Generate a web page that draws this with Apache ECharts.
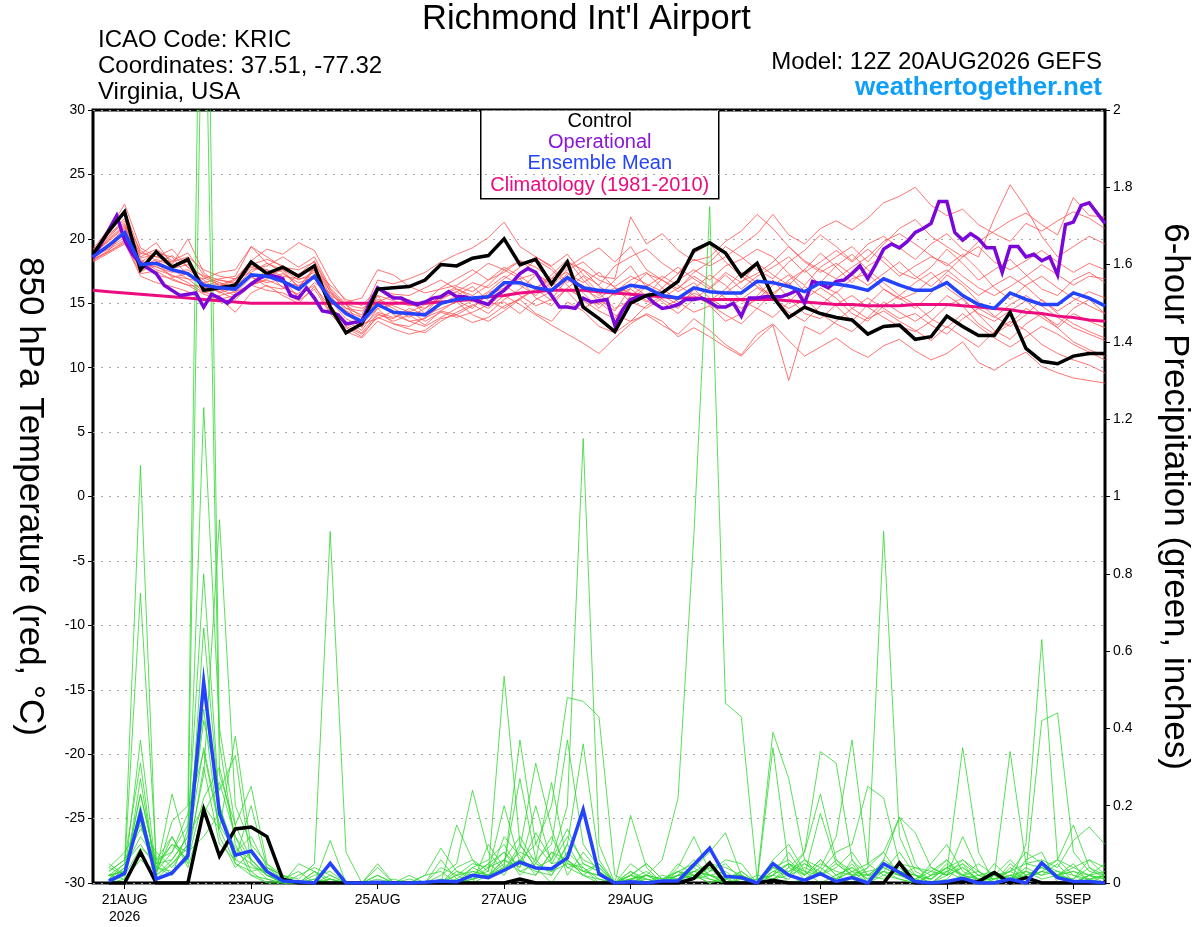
<!DOCTYPE html>
<html>
<head>
<meta charset="utf-8">
<title>Richmond Int'l Airport - GEFS meteogram</title>
<script src="https://cdn.jsdelivr.net/npm/echarts@6/dist/echarts.min.js"></script>
<style>
html, body { margin: 0; padding: 0; background: #fff; }
#chart { width: 1200px; height: 927px; }
</style>
</head>
<body>
<div id="chart"></div>
<script>
// x axis: hours after 12Z 20AUG2026
var dateTickHours = [12, 60, 108, 156, 204, 276, 324, 372];
var dateTickLabels = ['21AUG\n2026', '23AUG', '25AUG', '27AUG', '29AUG', '1SEP', '3SEP', '5SEP'];

// 850 hPa temperature, 6-hourly from 0h
var control = [
    18.8, 20.6, 22.1, 17.6, 19.0, 17.8, 18.4, 16.0, 16.2, 16.4, 18.2, 17.3, 17.8,
    17.1, 17.9, 14.7, 12.7, 13.4, 16.1, 16.2, 16.3, 16.8, 18.0, 17.9, 18.5, 18.7,
    20.0, 18.0, 18.4, 16.5, 18.2, 14.7, 13.8, 12.8, 15.0, 15.6, 15.8, 16.7, 19.1,
    19.7, 18.9, 17.1, 18.1, 15.5, 13.9, 14.7, 14.2, 13.9, 13.7, 12.6, 13.2, 13.3,
    12.2, 12.4, 14.0, 13.2, 12.5, 12.5, 14.3, 11.5, 10.5, 10.3, 10.9, 11.1, 11.1
];
var ensMean = [
    18.6, 19.5, 20.5, 18.0, 18.1, 17.6, 17.3, 16.4, 16.2, 16.1, 17.2, 17.1, 16.7,
    16.1, 17.1, 15.3, 14.2, 13.6, 14.9, 14.3, 14.2, 14.1, 15.0, 15.3, 15.4, 15.5,
    16.6, 16.6, 16.2, 16.0, 17.0, 16.2, 16.0, 15.9, 16.4, 16.2, 15.6, 15.4, 16.2,
    15.9, 15.8, 15.8, 16.7, 16.6, 16.3, 15.9, 16.6, 16.5, 16.3, 16.0, 16.9, 16.4,
    16.0, 16.0, 16.6, 15.6, 14.9, 14.6, 15.8, 15.3, 14.9, 14.9, 15.8, 15.4, 14.8
];
var climatology = [
    16.0, 15.9, 15.8, 15.7, 15.6, 15.5, 15.4, 15.3, 15.2, 15.1, 15.0, 15.0, 15.0,
    15.0, 15.0, 15.0, 15.0, 15.0, 15.0, 15.0, 15.0, 15.0, 15.1, 15.2, 15.3, 15.5,
    15.6, 15.8, 15.9, 16.0, 16.0, 16.0, 15.9, 15.8, 15.7, 15.6, 15.5, 15.4, 15.4,
    15.3, 15.3, 15.3, 15.3, 15.3, 15.2, 15.1, 15.0, 14.9, 14.9, 14.8, 14.8, 14.8,
    14.9, 14.9, 14.9, 14.8, 14.7, 14.6, 14.5, 14.3, 14.2, 14.0, 13.9, 13.7, 13.6
];
// operational run, 3-hourly from 0h
var operational = [
    18.5, 19.6, 20.7, 21.8, 19.9, 18.8, 18.1, 17.7, 17.3, 16.4, 16.0, 15.6, 15.7, 15.8, 14.7, 15.7,
    15.4, 15.0, 15.6, 16.0, 16.5, 16.9, 17.2, 17.1, 16.9, 15.6, 15.4, 16.2, 15.4, 14.4, 14.3, 14.1,
    13.4, 13.5, 13.6, 15.0, 16.2, 15.8, 15.4, 15.4, 15.1, 14.9, 15.1, 15.4, 15.5, 15.9, 15.5, 15.5,
    15.3, 15.1, 14.9, 15.6, 16.0, 16.6, 17.3, 17.7, 17.4, 16.4, 15.6, 14.7, 14.7, 14.6, 15.4, 15.1,
    15.2, 15.3, 13.3, 14.5, 15.3, 15.5, 15.6, 15.0, 14.6, 14.7, 14.9, 15.3, 15.3, 15.4, 15.1, 14.7,
    14.7, 15.0, 14.0, 15.4, 15.4, 15.5, 15.5, 15.5, 15.7, 16.0, 15.0, 16.7, 16.5, 16.2, 16.7, 16.8,
    17.3, 17.9, 16.9, 18.0, 19.2, 19.6, 19.3, 19.8, 20.5, 20.8, 21.2, 22.9, 22.9, 20.5, 19.9, 20.4,
    20.0, 19.3, 19.3, 17.4, 19.4, 19.4, 18.6, 18.8, 18.3, 18.6, 17.2, 21.1, 21.3, 22.6, 22.8, 22.0,
    21.2
];

// ensemble members, temperature, 6-hourly from 0h
var tMember01 = [
    18.9, 20.2, 21.6, 18.6, 19.2, 18.3, 18.9, 17.2, 16.8, 16.5, 18.0, 18.4, 17.9,
    17.2, 18.3, 16.1, 14.6, 14.1, 16.8, 16.5, 16.9, 17.4, 18.2, 18.8, 19.3, 20.1,
    21.3, 19.4, 18.6, 17.9, 18.8, 17.2, 16.4, 17.9, 18.6, 19.2, 18.1, 17.3, 18.4,
    17.9, 18.6, 19.5, 20.4, 21.9, 20.3, 19.6, 20.8, 21.4, 20.7, 21.6, 22.8, 23.3,
    24.0, 22.6, 21.8, 22.3, 21.1, 20.4, 19.8, 21.2, 20.6, 21.4, 22.1, 21.6, 20.8
];
var tMember02 = [
    18.4, 19.0, 19.8, 17.3, 17.5, 16.8, 16.4, 15.7, 15.3, 15.6, 16.4, 16.0, 15.8,
    15.2, 16.1, 14.2, 12.8, 12.3, 13.6, 13.0, 12.6, 12.9, 13.8, 14.1, 13.5, 13.9,
    14.8, 15.3, 14.2, 13.6, 15.1, 14.4, 13.2, 12.7, 13.6, 14.1, 13.3, 12.6, 13.8,
    12.9, 11.8, 11.0, 12.6, 13.4, 12.1, 10.9, 11.6, 12.3, 11.4, 10.8, 11.7, 12.2,
    11.3, 10.6, 11.1, 12.0, 10.4, 9.8, 10.6, 11.2, 10.1, 9.6, 9.2, 9.0, 8.8
];
var tMember03 = [
    18.7, 20.6, 22.7, 19.3, 18.6, 19.2, 17.8, 16.6, 16.9, 17.1, 19.4, 18.6, 17.8,
    17.6, 18.2, 15.9, 14.9, 13.1, 15.6, 15.2, 14.8, 15.1, 16.2, 16.9, 17.6, 16.8,
    17.4, 18.3, 17.8, 16.9, 18.2, 17.6, 16.8, 16.3, 17.1, 16.5, 15.9, 16.8, 17.6,
    16.8, 17.9, 18.4, 19.2, 18.6, 17.3, 16.4, 17.8, 18.6, 19.4, 18.2, 19.6, 20.8,
    21.5, 20.2, 19.4, 18.6, 19.8, 20.6, 21.4, 22.0, 21.1, 20.3, 23.2, 21.8, 21.7
];
var tMember04 = [
    18.5, 19.3, 20.1, 17.6, 17.9, 17.1, 16.9, 15.9, 15.4, 14.3, 15.8, 16.4, 15.6,
    15.0, 16.3, 14.7, 13.4, 12.7, 14.2, 13.6, 14.1, 13.3, 14.4, 15.2, 14.6, 15.8,
    16.4, 15.6, 14.8, 15.3, 16.9, 15.8, 14.6, 15.9, 16.8, 17.4, 16.2, 15.1, 14.3,
    14.8, 13.6, 14.2, 15.6, 16.8, 15.4, 14.2, 13.8, 14.9, 15.6, 14.7, 13.9, 13.2,
    12.8, 13.6, 14.8, 15.4, 14.1, 12.9, 12.2, 13.4, 14.2, 13.1, 12.0, 11.4, 10.9
];
var tMember05 = [
    19.1, 20.4, 21.2, 18.8, 19.7, 18.0, 20.0, 17.4, 16.3, 16.8, 18.3, 19.2, 18.8,
    19.7, 19.1, 16.8, 15.1, 15.4, 17.6, 17.2, 16.3, 15.8, 16.1, 16.4, 17.2, 18.1,
    17.6, 16.9, 15.4, 14.8, 16.2, 17.1, 15.8, 14.6, 15.2, 16.3, 17.1, 16.4, 15.6,
    14.9, 15.8, 16.7, 17.3, 18.2, 19.4, 18.3, 17.6, 16.9, 17.8, 18.6, 19.8, 20.4,
    19.6, 18.7, 17.9, 18.8, 17.6, 16.2, 15.3, 16.4, 17.1, 16.2, 15.4, 14.8, 14.2
];
var tMember06 = [
    18.3, 19.0, 19.7, 17.1, 16.6, 16.3, 15.9, 15.2, 15.6, 15.9, 16.4, 16.9, 17.3,
    16.6, 17.0, 14.9, 13.2, 12.6, 13.9, 13.4, 13.0, 12.7, 13.6, 14.3, 14.9, 14.2,
    15.3, 16.1, 17.2, 16.6, 17.8, 18.6, 19.3, 18.2, 19.4, 17.6, 16.8, 15.9, 16.6,
    15.4, 14.6, 15.3, 16.2, 15.4, 14.3, 13.6, 14.8, 15.9, 14.6, 13.8, 14.4, 13.6,
    12.9, 12.1, 13.2, 12.4, 11.6, 12.8, 13.6, 12.9, 11.8, 11.1, 10.6, 10.2, 9.6
];
var tMember07 = [
    18.8, 19.9, 21.0, 18.3, 17.8, 17.4, 17.6, 16.8, 15.9, 16.4, 17.8, 17.4, 16.2,
    15.7, 17.9, 15.6, 14.1, 13.4, 14.6, 14.9, 15.3, 14.2, 15.6, 16.1, 15.4, 14.8,
    15.9, 17.2, 18.4, 17.6, 16.4, 15.2, 14.4, 13.8, 15.6, 16.4, 15.1, 14.2, 15.3,
    16.2, 17.4, 16.6, 18.1, 17.2, 16.4, 17.6, 18.9, 17.8, 16.6, 17.9, 18.6, 17.4,
    16.9, 17.8, 19.2, 18.1, 16.8, 17.6, 18.4, 17.2, 16.1, 15.6, 16.8, 17.4, 16.6
];
var tMember08 = [
    18.6, 19.6, 20.8, 17.8, 18.4, 17.9, 18.2, 16.1, 16.6, 15.8, 17.0, 16.6, 16.9,
    15.4, 16.6, 15.8, 14.6, 14.4, 15.6, 14.1, 13.6, 13.8, 14.9, 15.6, 16.3, 15.2,
    14.6, 15.4, 16.1, 17.2, 18.4, 16.8, 15.6, 16.8, 17.9, 16.2, 15.3, 14.6, 16.1,
    17.2, 16.4, 15.2, 14.6, 13.9, 15.1, 16.3, 15.6, 14.8, 13.6, 14.9, 16.1, 15.4,
    14.6, 15.8, 17.2, 16.4, 15.1, 14.0, 13.2, 14.1, 15.3, 14.2, 13.4, 12.8, 12.3
];
var tMember09 = [
    18.5, 19.4, 20.3, 18.2, 18.9, 18.6, 17.1, 16.9, 17.4, 17.6, 19.4, 18.1, 17.4,
    16.3, 17.6, 16.4, 15.3, 14.8, 16.1, 15.7, 15.6, 16.2, 16.8, 16.1, 15.6, 16.4,
    17.6, 18.3, 17.4, 16.3, 17.6, 18.2, 17.1, 16.9, 21.7, 19.6, 20.4, 19.1, 18.3,
    18.6, 19.8, 20.6, 21.9, 20.8, 19.4, 18.2, 17.4, 18.1, 17.2, 16.4, 17.3, 18.2,
    17.1, 16.3, 17.4, 18.6, 19.4, 18.2, 17.6, 18.3, 19.1, 18.2, 17.4, 18.1, 17.6
];
var tMember10 = [
    18.9, 19.8, 20.9, 18.1, 17.2, 16.9, 16.4, 16.3, 15.9, 15.3, 16.4, 16.8, 16.3,
    15.6, 16.4, 14.3, 13.1, 12.4, 14.1, 13.8, 14.6, 14.1, 14.6, 15.1, 14.1, 13.6,
    14.4, 15.3, 16.1, 15.2, 16.1, 15.4, 14.9, 15.8, 16.1, 15.2, 14.6, 15.3, 16.1,
    14.9, 14.1, 13.4, 14.6, 15.8, 16.6, 15.4, 14.2, 13.4, 12.8, 13.9, 15.1, 14.3,
    13.6, 14.4, 15.6, 14.8, 13.4, 12.6, 13.4, 14.6, 13.9, 13.1, 14.2, 13.6, 13.1
];
var tMember11 = [
    18.2, 18.9, 19.6, 17.7, 18.1, 18.7, 17.8, 17.1, 16.6, 16.2, 17.6, 17.9, 18.6,
    17.8, 18.6, 16.2, 14.9, 13.9, 15.2, 14.6, 13.9, 14.6, 15.6, 16.3, 15.9, 16.8,
    17.8, 17.1, 16.2, 16.9, 17.4, 16.1, 15.4, 16.2, 15.8, 15.1, 16.2, 17.3, 18.9,
    19.6, 18.2, 17.1, 16.3, 15.6, 16.8, 17.6, 16.4, 15.8, 16.9, 17.3, 16.1, 15.3,
    15.8, 16.9, 17.6, 16.6, 15.6, 16.4, 17.1, 16.3, 15.2, 14.4, 15.2, 15.9, 15.4
];
var tMember12 = [
    18.7, 19.2, 19.9, 18.4, 17.6, 17.2, 16.6, 15.8, 16.1, 15.6, 16.6, 17.6, 16.6,
    16.4, 16.9, 15.1, 14.4, 13.4, 13.8, 14.4, 13.6, 13.2, 13.9, 14.6, 15.2, 14.6,
    15.6, 14.9, 14.1, 13.3, 12.6, 11.9, 11.1, 12.3, 13.4, 14.2, 13.6, 12.4, 13.1,
    12.4, 11.6, 10.9, 12.2, 13.3, 9.0, 13.2, 12.6, 13.6, 14.6, 15.4, 14.6, 13.8,
    14.2, 13.3, 12.6, 13.8, 14.6, 13.9, 14.9, 15.6, 14.8, 13.9, 13.1, 12.6, 12.1
];
var tMember13 = [
    18.6, 20.1, 21.4, 19.1, 18.3, 17.6, 16.9, 16.6, 15.8, 16.2, 17.1, 16.3, 16.1,
    17.3, 17.6, 14.6, 13.6, 12.9, 14.6, 13.4, 13.2, 13.9, 14.4, 14.1, 14.8, 15.6,
    16.2, 16.9, 17.3, 16.1, 17.3, 16.6, 17.4, 16.2, 15.1, 14.6, 15.4, 16.2, 17.1,
    16.3, 15.4, 14.6, 15.3, 16.4, 17.2, 15.9, 16.6, 17.9, 18.8, 17.6, 16.6, 15.6,
    16.6, 17.4, 16.2, 15.3, 14.2, 13.6, 14.4, 15.2, 14.1, 13.3, 14.6, 15.3, 14.2
];
var tMember14 = [
    19.2, 20.8, 22.2, 18.9, 18.6, 18.2, 18.6, 17.6, 17.1, 16.9, 18.3, 17.1, 17.6,
    16.8, 17.4, 15.6, 14.9, 14.6, 15.3, 14.8, 14.3, 14.9, 15.4, 15.9, 16.6, 16.2,
    17.1, 16.4, 15.6, 16.6, 15.9, 14.6, 15.3, 14.4, 16.2, 17.3, 16.8, 16.1, 17.4,
    18.2, 19.4, 18.6, 17.6, 16.9, 18.2, 19.1, 20.3, 19.4, 18.3, 19.6, 20.2, 19.3,
    18.4, 19.6, 20.4, 19.2, 18.6, 21.6, 24.2, 22.4, 20.2, 18.6, 19.4, 20.2, 19.6
];
var tMember15 = [
    18.4, 19.1, 20.6, 17.4, 18.2, 17.0, 17.3, 16.2, 16.8, 16.6, 17.9, 17.6, 17.1,
    16.9, 17.1, 15.2, 13.8, 13.2, 14.3, 13.9, 14.4, 13.6, 14.3, 13.9, 14.3, 14.9,
    15.1, 14.2, 15.3, 15.9, 16.8, 16.4, 15.1, 14.1, 13.6, 14.8, 15.6, 14.9, 15.8,
    15.2, 16.1, 17.4, 16.6, 15.3, 14.6, 15.3, 16.2, 15.4, 14.2, 13.6, 14.8, 15.6,
    14.9, 13.8, 13.1, 14.2, 13.2, 12.3, 11.6, 12.4, 13.2, 12.6, 11.8, 11.2, 10.6
];
var tMember16 = [
    18.8, 20.0, 21.1, 18.5, 18.8, 17.7, 18.0, 17.0, 16.4, 16.9, 17.4, 18.1, 17.6,
    16.2, 17.8, 15.9, 14.4, 13.9, 15.1, 15.6, 14.9, 14.6, 15.3, 15.9, 15.1, 15.9,
    16.9, 17.8, 18.6, 17.8, 16.6, 17.6, 16.3, 15.6, 16.4, 15.6, 16.9, 17.8, 16.9,
    16.1, 17.2, 16.1, 17.1, 17.8, 18.6, 17.4, 18.2, 19.1, 18.2, 19.2, 18.2, 17.1,
    17.9, 18.6, 18.1, 17.1, 16.2, 15.6, 16.3, 17.1, 18.0, 17.2, 16.4, 17.1, 16.9
];

// 6-hour precipitation (inches), 6-hourly from 6h
var controlPrecip = [
    0, 0, 0.08, 0, 0, 0, 0.19, 0.07,
    0.14, 0.145, 0.12, 0.01, 0, 0, 0, 0,
    0, 0, 0, 0, 0, 0, 0, 0,
    0, 0, 0.01, 0, 0, 0, 0, 0,
    0, 0, 0, 0, 0, 0.012, 0.052, 0,
    0, 0, 0.007, 0, 0, 0, 0, 0,
    0, 0, 0.052, 0, 0, 0, 0.004, 0.004,
    0.027, 0, 0.014, 0, 0, 0, 0, 0
];
var meanPrecip = [
    0.005, 0.025, 0.18, 0.01, 0.026, 0.07, 0.52, 0.18,
    0.072, 0.083, 0.03, 0.005, 0.003, 0, 0.051, 0,
    0, 0.002, 0, 0, 0.002, 0.005, 0.003, 0.02,
    0.014, 0.033, 0.054, 0.039, 0.037, 0.065, 0.19, 0.023,
    0, 0.003, 0, 0.005, 0.005, 0.047, 0.09, 0.017,
    0.014, 0, 0.05, 0.02, 0.007, 0.024, 0.004, 0.014,
    0, 0.05, 0.027, 0.004, 0, 0.004, 0.012, 0,
    0, 0.01, 0, 0.052, 0.014, 0.004, 0.004, 0
];
var pMember01 = [
    0.02, 0.05, 1.08, 0.04, 0.1, 0.06, 0.22, 0.3,
    0.12, 0.03, 0, 0, 0, 0, 0, 0,
    0, 0, 0, 0, 0, 0.02, 0.05, 0.24,
    0.08, 0.03, 0.1, 0.04, 0, 0.06, 0.02, 0,
    0, 0.01, 0, 0, 0, 0.04, 0.08, 0.13,
    0.02, 0, 0.05, 0, 0.01, 0.03, 0, 0.06,
    0, 0.02, 0.04, 0, 0, 0.03, 0.35, 0.08,
    0, 0.02, 0, 0.05, 0.03, 0, 0.01, 0.02
];
var pMember02 = [
    0, 0.04, 0.75, 0.06, 0.02, 0.14, 0.8, 0.2,
    0.05, 0.02, 0.01, 0, 0, 0, 0.11, 0,
    0, 0, 0, 0, 0, 0, 0, 0.04,
    0.02, 0.06, 0.12, 0.05, 0.03, 0.1, 0.36, 0.06,
    0, 0, 0.02, 0, 0.05, 0.02, 0, 0.01,
    0, 0, 0.06, 0.1, 0.03, 0, 0.02, 0.04,
    0.01, 0.06, 0.17, 0.05, 0, 0, 0.02, 0,
    0.03, 0, 0.06, 0.08, 0, 0, 0.02, 0
];
var pMember03 = [
    0.01, 0.02, 0.37, 0.03, 0.08, 0.18, 0.34, 0.14,
    0.38, 0.09, 0.03, 0, 0, 0.01, 0, 0,
    0, 0.04, 0, 0, 0, 0, 0.15, 0.06,
    0.01, 0.12, 0.07, 0.02, 0.08, 0.04, 0.02, 0.01,
    0, 0.05, 0.02, 0, 0, 0.03, 0.02, 0,
    0, 0.01, 0.39, 0.27, 0.06, 0.02, 0.01, 0.03,
    0, 0.04, 0.02, 0, 0.05, 0.1, 0.03, 0.01,
    0, 0.04, 0.01, 0.03, 0.02, 0.05, 0, 0
];
var pMember04 = [
    0.03, 0.06, 0.31, 0.01, 0.05, 0.1, 0.42, 0.24,
    0.33, 0.05, 0.01, 0, 0.02, 0.04, 0.02, 0,
    0, 0, 0, 0.01, 0, 0, 0.03, 0.02,
    0.05, 0.02, 0.09, 0.31, 0.14, 0.02, 0.08, 0.03,
    0, 0, 0, 0.02, 0.01, 0.02, 0.04, 0,
    0.01, 0, 0.04, 0.02, 0.08, 0.23, 0.06, 0.02,
    0, 0.03, 0.08, 0.02, 0, 0.01, 0.05, 0,
    0.02, 0.06, 0.02, 0.04, 0.06, 0.15, 0.04, 0.01
];
var pMember05 = [
    0, 0.01, 0.27, 0.02, 0.16, 0.2, 3.2, 0.36,
    0.1, 0.02, 0, 0, 0, 0, 0, 0,
    0, 0, 0, 0, 0, 0, 0.02, 0.05,
    0.04, 0.08, 0.02, 0.06, 0.26, 0.05, 0.03, 0.02,
    0, 0.02, 0.05, 0.01, 0.03, 0.05, 0.02, 0,
    0.03, 0, 0.02, 0.05, 0.02, 0.06, 0.02, 0,
    0.04, 0.08, 0.02, 0.01, 0.04, 0.02, 0.12, 0.03,
    0, 0.01, 0.02, 0.04, 0.02, 0, 0.02, 0.03
];
var pMember06 = [
    0.05, 0.02, 0.23, 0.05, 0.06, 0.12, 2.6, 0.28,
    0.15, 0.06, 0.02, 0.01, 0, 0, 0, 0,
    0, 0, 0, 0, 0.02, 0.03, 0, 0.02,
    0.03, 0.2, 0.05, 0.03, 0.02, 0.08, 0.04, 0.01,
    0, 0, 0.01, 0, 0.04, 0.12, 0.03, 0.05,
    0.01, 0, 0.03, 0.05, 0.01, 0.04, 0.12, 0.37,
    0.05, 0.02, 0.01, 0, 0.02, 0.03, 0.01, 0,
    0.05, 0.01, 0.03, 0.02, 0.05, 0, 0.02, 0.05
];
var pMember07 = [
    0.02, 0.03, 0.18, 0.04, 0.02, 0.08, 1.23, 0.4,
    0.15, 0.25, 0.05, 0.01, 0, 0, 0.02, 0,
    0, 0, 0, 0, 0, 0, 0, 0.03,
    0.02, 0.06, 0.04, 0.13, 0.06, 0.2, 1.15, 0.1,
    0, 0.03, 0, 0, 0.02, 0.01, 0.04, 0.02,
    0, 0.02, 0.01, 0.03, 0.05, 0.02, 0.04, 0.08,
    0.02, 0.05, 0.03, 0.02, 0.01, 0.04, 0.02, 0.05,
    0.02, 0, 0.03, 0.42, 0.44, 0.08, 0.03, 0.02
];
var pMember08 = [
    0.04, 0.08, 0.15, 0.03, 0.12, 0.05, 0.66, 0.2,
    0.08, 0.12, 0.04, 0.02, 0, 0, 0.01, 0,
    0, 0.02, 0, 0, 0, 0.06, 0.01, 0,
    0.1, 0.04, 0.37, 0.1, 0.05, 0.12, 0.06, 0.04,
    0, 0.01, 0.03, 0, 0.02, 0.06, 0.02, 0.01,
    0.02, 0, 0.04, 0.06, 0.02, 0.18, 0.05, 0.02,
    0.02, 0.01, 0.05, 0.04, 0.02, 0.06, 0.02, 0.01,
    0.01, 0.03, 0.08, 0.05, 0.02, 0.01, 0.06, 0.04
];
var pMember09 = [
    0.01, 0.04, 0.12, 0.06, 0.08, 0.15, 0.5, 0.18,
    0.06, 0.04, 0.03, 0, 0.05, 0.03, 0, 0,
    0, 0.05, 0, 0, 0, 0, 0.01, 0.04,
    0.06, 0.1, 0.03, 0.05, 0.12, 0.04, 0.05, 0.03,
    0, 0.175, 0.04, 0, 0.01, 0.02, 0.01, 0,
    0, 0, 0.03, 0.02, 0.06, 0.04, 0.01, 0.05,
    0, 0.06, 0.03, 0.02, 0.01, 0.05, 0.02, 0.01,
    0.02, 0.34, 0.05, 0.04, 0.02, 0.03, 0.01, 0.02
];
var pMember10 = [
    0, 0.02, 0.2, 0.02, 0.05, 0.09, 0.45, 0.12,
    0.04, 0.08, 0.02, 0, 0, 0.03, 0, 0,
    0, 0, 0, 0, 0, 0.04, 0.02, 0,
    0.02, 0.05, 0.27, 0.06, 0.02, 0.1, 0.03, 0.02,
    0, 0.03, 0.01, 0, 0.02, 0.03, 0.05, 0.04,
    0.02, 0, 0.01, 0.04, 0.08, 0.34, 0.31, 0.06,
    0.02, 0.03, 0.01, 0, 0.02, 0.04, 0.06, 0.02,
    0, 0.02, 0.01, 0.03, 0.06, 0.04, 0.02, 0.01
];
var pMember11 = [
    0.03, 0.06, 0.14, 0.08, 0.04, 0.1, 0.35, 0.15,
    0.08, 0.05, 0.02, 0, 0, 0, 0.01, 0,
    0, 0.01, 0, 0, 0, 0, 0.04, 0.06,
    0.03, 0.535, 0.1, 0.04, 0.06, 0.14, 0.05, 0.03,
    0, 0.02, 0, 0, 0.03, 0.01, 0.02, 0.03,
    0, 0, 0.02, 0.01, 0.05, 0.03, 0.08, 0.1,
    0.25, 0.22, 0.05, 0.02, 0, 0.03, 0.05, 0.02,
    0.03, 0.01, 0.04, 0.02, 0.03, 0.02, 0, 0.02
];
var pMember12 = [
    0.02, 0.03, 0.23, 0.05, 0.1, 0.08, 0.28, 0.94,
    0.2, 0.1, 0.05, 0.02, 0, 0.01, 0, 0,
    0, 0, 0, 0, 0, 0.01, 0, 0.01,
    0.02, 0.04, 0.06, 0.1, 0.2, 0.48, 0.47, 0.43,
    0.02, 0, 0.02, 0.01, 0.02, 0.04, 0.01, 0,
    0, 0.01, 0.02, 0.08, 0.02, 0.05, 0.03, 0.02,
    0.03, 0.04, 0.02, 0.01, 0.03, 0.02, 0.04, 0.01,
    0.02, 0, 0.1, 0.63, 0.06, 0.02, 0.01, 0
];
var pMember13 = [
    0.01, 0.05, 0.1, 0.04, 0.03, 0.06, 0.3, 0.1,
    0.06, 0.2, 0.04, 0.01, 0.03, 0, 0, 0,
    0, 0, 0, 0.02, 0, 0, 0, 0.02,
    0.05, 0.08, 0.04, 0.2, 0.05, 0.06, 0.03, 0.05,
    0, 0.02, 0.05, 0.01, 0.03, 0.02, 0, 0.02,
    0.02, 0, 0.04, 0.03, 0.06, 0.02, 0.05, 0.02,
    0.04, 0.91, 0.12, 0.03, 0.01, 0.04, 0.02, 0.03,
    0, 0.05, 0.02, 0.03, 0.02, 0.01, 0.04, 0.02
];
var pMember14 = [
    0.02, 0.03, 0.16, 0.02, 0.06, 0.12, 0.2, 0.14,
    0.05, 0.03, 0.04, 0.02, 0.01, 0.05, 0.91, 0.08,
    0, 0, 0, 0, 0, 0, 0, 0.01,
    0.02, 0.03, 0.06, 0.04, 0.03, 0.05, 0.04, 0,
    0, 0.01, 0.02, 0.06, 0.22, 0.9, 1.75, 0.465,
    0.43, 0.01, 0.02, 0.05, 0.03, 0.02, 0.06, 0.03,
    0.02, 0.05, 0.03, 0.01, 0, 0.02, 0.04, 0.01,
    0.02, 0.03, 0.01, 0.05, 0.02, 0.03, 0.02, 0.01
];
var pMember15 = [
    0.04, 0.02, 0.09, 0.06, 0.12, 0.04, 0.18, 0.26,
    0.12, 0.06, 0.02, 0.01, 0, 0.02, 0.03, 0,
    0, 0, 0.01, 0, 0.02, 0.09, 0.03, 0.01,
    0.04, 0.06, 0.03, 0.02, 0.08, 0.06, 0.02, 0.05,
    0, 0.02, 0.01, 0, 0.02, 0.01, 0.03, 0.06,
    0.05, 0, 0.35, 0.04, 0.02, 0.06, 0.02, 0.04,
    0.01, 0.03, 0.02, 0.04, 0.03, 0.06, 0.01, 0.02,
    0.01, 0.03, 0.05, 0.06, 0.04, 0.11, 0.145, 0.1
];
var pMember16 = [
    0.02, 0.01, 0.06, 0.03, 0.23, 0.08, 0.12, 0.18,
    0.09, 0.06, 0.02, 0, 0, 0.03, 0.01, 0,
    0, 0.02, 0, 0, 0, 0, 0.02, 0.03,
    0.02, 0.04, 0.08, 0.06, 0.1, 0.37, 0.1, 0.04,
    0, 0.01, 0.02, 0.01, 0.01, 0.03, 0.02, 0.01,
    0.03, 0, 0.01, 0.02, 0.04, 0.02, 0.01, 0.03,
    0.05, 0.08, 0.17, 0.13, 0.04, 0.02, 0.06, 0.03,
    0.01, 0.02, 0.03, 0.01, 0.02, 0.04, 0.06, 0.02
];

var tempMembers = [tMember01, tMember02, tMember03, tMember04, tMember05, tMember06, tMember07, tMember08,
    tMember09, tMember10, tMember11, tMember12, tMember13, tMember14, tMember15, tMember16];
var precipMembers = [pMember01, pMember02, pMember03, pMember04, pMember05, pMember06, pMember07, pMember08,
    pMember09, pMember10, pMember11, pMember12, pMember13, pMember14, pMember15, pMember16];

// pair values with forecast hour
function withHours(values, firstHour, step) {
    return values.map(function (v, i) { return [firstHour + i * step, v]; });
}

var font = 'Liberation Sans, Arial, Helvetica, sans-serif';

function thinLine(name, data, color, yIdx) {
    return {
        name: name,
        type: 'line',
        yAxisIndex: yIdx,
        data: data,
        showSymbol: false,
        symbol: 'none',
        silent: true,
        lineStyle: { color: color, width: 0.8 },
        z: 2
    };
}
function thickLine(name, data, color, width, yIdx, z) {
    return {
        name: name,
        type: 'line',
        yAxisIndex: yIdx,
        data: data,
        showSymbol: false,
        symbol: 'none',
        silent: true,
        lineStyle: { color: color, width: width, join: 'miter' },
        z: z
    };
}

var series = [];
tempMembers.forEach(function (m, i) {
    series.push(thinLine('t' + i, withHours(m, 0, 6), '#ff5050', 0));
});
precipMembers.forEach(function (m, i) {
    series.push(thinLine('p' + i, withHours(m, 6, 6), '#2fd82f', 1));
});
series.push(thickLine('Climatology', withHours(climatology, 0, 6), '#ec0c80', 3, 0, 5));
series.push(thickLine('Operational', withHours(operational, 0, 3), '#7a06d9', 3.5, 0, 6));
series.push(thickLine('Control', withHours(control, 0, 6), '#000000', 3.5, 0, 7));
series.push(thickLine('Ensemble Mean', withHours(ensMean, 0, 6), '#2443ff', 3.5, 0, 8));
series.push(thickLine('Control precip', withHours(controlPrecip, 6, 6), '#000000', 3.5, 1, 7));
series.push(thickLine('Mean precip', withHours(meanPrecip, 6, 6), '#2443ff', 3.5, 1, 8));

var chart = echarts.init(document.getElementById('chart'), null, { renderer: 'canvas' });

var option = {
    animation: false,
    backgroundColor: '#ffffff',
    textStyle: { fontFamily: font },
    grid: {
        left: 93,
        right: 94,
        top: 110,
        bottom: 44,
        show: true,
        borderColor: '#000',
        borderWidth: 3,
        backgroundColor: 'transparent'
    },
    xAxis: {
        type: 'value',
        min: 0,
        max: 384,
        axisLine: { show: false, onZero: false },
        splitLine: { show: false },
        axisTick: {
            show: true,
            inside: false,
            customValues: dateTickHours,
            length: 6,
            lineStyle: { color: '#000', width: 1 }
        },
        axisLabel: {
            customValues: dateTickHours,
            color: '#000',
            fontSize: 14,
            lineHeight: 17,
            margin: 9,
            formatter: function (v) {
                var i = dateTickHours.indexOf(v);
                return i >= 0 ? dateTickLabels[i] : '';
            }
        }
    },
    yAxis: [{
        type: 'value',
        min: -30,
        max: 30,
        interval: 5,
        position: 'left',
        name: '850 hPa Temperature (red, °C)',
        nameLocation: 'middle',
        nameRotate: -90,
        nameGap: 46,
        nameTextStyle: { fontSize: 35, color: '#000' },
        axisLine: { show: false },
        axisTick: { show: true, length: 5, lineStyle: { color: '#000' } },
        axisLabel: { color: '#000', fontSize: 14, margin: 8 },
        splitLine: { show: true, lineStyle: { color: '#a8a8a8', width: 1, type: [2, 6] } }
    }, {
        type: 'value',
        min: 0,
        max: 2,
        interval: 0.2,
        position: 'right',
        name: '6-hour Precipitation (green, inches)',
        nameLocation: 'middle',
        nameRotate: -90,
        nameGap: 52,
        nameTextStyle: { fontSize: 35, color: '#000' },
        axisLine: { show: false },
        axisTick: { show: true, length: 5, lineStyle: { color: '#000' } },
        axisLabel: {
            color: '#000', fontSize: 14, margin: 8,
            formatter: function (v) { return String(Math.round(v * 10) / 10); }
        },
        splitLine: { show: false }
    }],
    series: series,
    graphic: [
        { type: 'text', left: 422, top: 2, style: { text: "Richmond Int'l Airport", fontSize: 34.5, fill: '#000', fontFamily: font } },
        { type: 'text', left: 98, top: 28, style: { text: 'ICAO Code: KRIC', fontSize: 24, fill: '#000', fontFamily: font } },
        { type: 'text', left: 98, top: 54, style: { text: 'Coordinates: 37.51, -77.32', fontSize: 24, fill: '#000', fontFamily: font } },
        { type: 'text', left: 98, top: 80, style: { text: 'Virginia, USA', fontSize: 24, fill: '#000', fontFamily: font } },
        { type: 'text', right: 98, top: 50, style: { text: 'Model: 12Z 20AUG2026 GEFS', fontSize: 24, fill: '#000', fontFamily: font } },
        { type: 'text', right: 98, top: 75, style: { text: 'weathertogether.net', fontSize: 26, fontWeight: 'bold', fill: '#0ea0f8', fontFamily: font } },
        {
            type: 'group', left: 480, top: 109, z: 100,
            children: [
                { type: 'rect', shape: { x: 0, y: 0, width: 238, height: 89 }, style: { fill: '#fff', stroke: '#000', lineWidth: 1.5 } },
                { type: 'text', x: 119, y: 12, style: { text: 'Control', fontSize: 20, fill: '#000', align: 'center', verticalAlign: 'middle', fontFamily: font } },
                { type: 'text', x: 119, y: 33, style: { text: 'Operational', fontSize: 20, fill: '#8a16d8', align: 'center', verticalAlign: 'middle', fontFamily: font } },
                { type: 'text', x: 119, y: 54, style: { text: 'Ensemble Mean', fontSize: 20, fill: '#2443ff', align: 'center', verticalAlign: 'middle', fontFamily: font } },
                { type: 'text', x: 119, y: 76, style: { text: 'Climatology (1981-2010)', fontSize: 20, fill: '#ec0c80', align: 'center', verticalAlign: 'middle', fontFamily: font } }
            ]
        }
    ]
};
chart.setOption(option);
</script>
</body>
</html>
